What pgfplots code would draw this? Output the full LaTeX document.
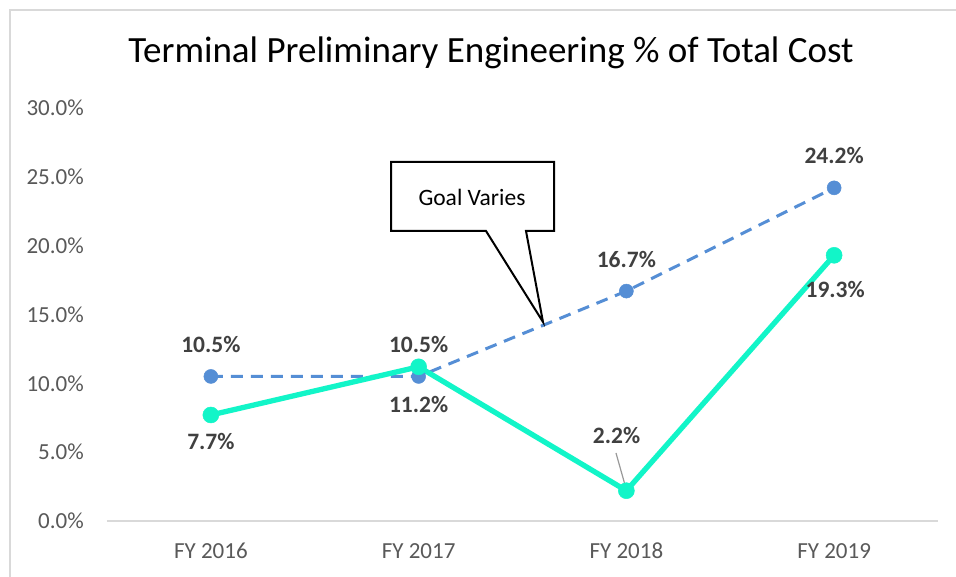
\documentclass[border=0pt]{standalone}
\usepackage{pgfplots}
\pgfplotsset{compat=1.18}
\usepackage{fontspec}
\setmainfont{Carlito}
\definecolor{goalblue}{RGB}{85,142,213}
\definecolor{tealc}{RGB}{18,245,200}
\definecolor{lblgray}{RGB}{64,64,64}
\definecolor{tickgray}{RGB}{89,89,89}
\definecolor{axgray}{RGB}{217,217,217}
\begin{document}
\begin{tikzpicture}[x=1pt,y=1pt]
\useasboundingbox (-107,-56) rectangle (849,521);
\fill[white] (-107,-56) rectangle (849,521);
\draw[axgray, line width=2pt] (-97,-90) rectangle (880,511);
\node[anchor=base, font=\fontsize{37}{40}\selectfont, text=black] at (384,458) {Terminal Preliminary Engineering \% of Total Cost};
\begin{axis}[
  scale only axis, width=831pt, height=413pt,
  at={(0,0)}, anchor=south west,
  xmin=-0.5, xmax=3.5, ymin=0, ymax=30,
  xtick={0,1,2,3}, xticklabels={FY 2016,FY 2017,FY 2018,FY 2019},
  ytick={0,5,10,15,20,25,30},
  yticklabel={\pgfmathprintnumber[fixed,fixed zerofill,precision=1]{\tick}\%},
  /pgf/number format/assume math mode=true,
  axis line style={draw=none},
  major tick length=0pt,
  tick style={draw=none},
  ticklabel style={font=\fontsize{23}{26}\selectfont, text=tickgray},
  yticklabel style={anchor=east, inner sep=0pt, xshift=-23pt},
  xticklabel style={anchor=base, inner sep=0pt, yshift=-38pt},
  clip=false,
]
\draw[axgray, line width=1.5pt] (axis cs:-0.5,0) -- (axis cs:3.5,0);
\addplot[goalblue, line width=3pt, dash pattern=on 12pt off 8pt, mark=*, mark size=7pt,
  mark options={solid, fill=goalblue, draw=goalblue, line width=0.5pt}]
  coordinates {(0,10.5) (1,10.5) (2,16.7) (3,24.2)};
\addplot[tealc, line width=5.3pt, mark=*, mark size=8pt,
  mark options={solid, fill=tealc, draw=tealc, line width=0.5pt}]
  coordinates {(0,7.7) (1,11.2) (2,2.2) (3,19.3)};
\draw[gray!80, line width=1.2pt] (axis cs:1.950,4.94) -- (axis cs:2.003,2.11);
\begin{scope}[every node/.style={font=\fontsize{23.5}{26}\selectfont\bfseries, text=lblgray, inner sep=0pt}]
\node at (axis cs:0,12.82) {10.5\%};
\node at (axis cs:1,12.82) {10.5\%};
\node at (axis cs:2,19.03) {16.7\%};
\node at (axis cs:3,26.55) {24.2\%};
\node at (axis cs:0,5.74) {7.7\%};
\node at (axis cs:1,8.46) {11.2\%};
\node at (axis cs:1.953,6.21) {2.2\%};
\node at (axis cs:3.005,16.82) {19.3\%};
\end{scope}
\end{axis}
\draw[black, fill=white, line width=2pt, line join=miter]
  (284,359) -- (447,359) -- (447,290) -- (419,290) -- (436,199) -- (379,290) -- (284,290) -- cycle;
\node[font=\fontsize{23.5}{26}\selectfont, text=black] at (365,324) {Goal Varies};
\end{tikzpicture}
\end{document}
